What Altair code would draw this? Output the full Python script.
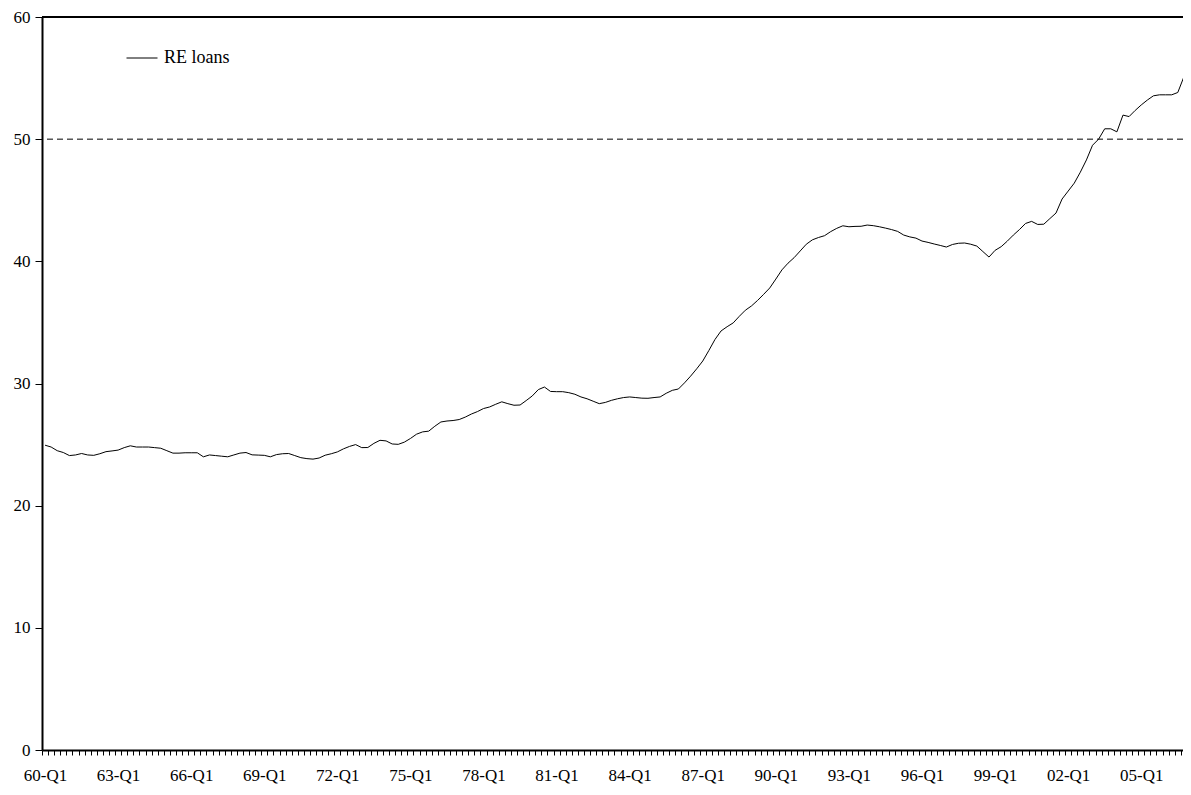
import json
import altair as alt
import pandas as pd

re_loans = [
    24.95, 24.8, 24.5, 24.35, 24.1, 24.15, 24.27, 24.15,
    24.12, 24.25, 24.42, 24.48, 24.55, 24.75, 24.9, 24.8,
    24.8, 24.8, 24.75, 24.7, 24.5, 24.3, 24.3, 24.33,
    24.33, 24.33, 24.0, 24.15, 24.1, 24.05, 24.0, 24.15,
    24.3, 24.35, 24.16, 24.14, 24.12, 24.0, 24.18, 24.25,
    24.27, 24.1, 23.93, 23.85, 23.81, 23.9, 24.13, 24.25,
    24.4, 24.65, 24.85, 25.0, 24.75, 24.76, 25.1, 25.35,
    25.3, 25.05, 25.02, 25.2, 25.5, 25.85, 26.04, 26.1,
    26.5, 26.85, 26.93, 26.97, 27.05, 27.25, 27.5, 27.7,
    27.95, 28.08, 28.3, 28.5, 28.35, 28.22, 28.24, 28.6,
    28.98, 29.5, 29.71, 29.35, 29.33, 29.33, 29.25, 29.12,
    28.9, 28.75, 28.55, 28.35, 28.45, 28.62, 28.75, 28.85,
    28.9, 28.85, 28.8, 28.79, 28.85, 28.9, 29.2, 29.44,
    29.55, 30.05, 30.6, 31.2, 31.84, 32.7, 33.6, 34.3,
    34.65, 34.96, 35.5, 36.0, 36.35, 36.8, 37.3, 37.82,
    38.55, 39.3, 39.85, 40.3, 40.85, 41.4, 41.76, 41.95,
    42.1, 42.43, 42.7, 42.91, 42.83, 42.86, 42.87, 42.97,
    42.92, 42.83, 42.72, 42.6, 42.45, 42.15, 42.0, 41.9,
    41.66, 41.55, 41.42, 41.3, 41.17, 41.38, 41.48, 41.5,
    41.4, 41.25, 40.8, 40.35, 40.9, 41.2, 41.65, 42.15,
    42.6, 43.1, 43.27, 43.02, 43.04, 43.5, 43.95, 45.1,
    45.75, 46.4, 47.3, 48.3, 49.5, 50.0, 50.85, 50.85,
    50.6, 51.97, 51.85, 52.35, 52.8, 53.2, 53.55, 53.63,
    53.63, 53.63, 53.82, 55.1, 54.92,
]
quarters = [f"{(60 + k // 4) % 100:02d}-Q{k % 4 + 1}" for k in range(len(re_loans))]
series_name = ["RE loans"]
y_ticks = [0, 10, 20, 30, 40, 50, 60]
threshold = [50]
top_value = [60]

df = pd.DataFrame({"i": list(range(len(re_loans))), "q": quarters,
                   "v": re_loans, "s": series_name * len(re_loans)})

PX_PER_Q = 6.09
WIDTH = 1141
HEIGHT = 733
x_end = -0.5 + WIDTH / PX_PER_Q

tick_vals = [k - 0.5 for k in range(0, 190)]
lbl = [quarters[k] if (k % 12 == 0 and k < len(quarters)) else "" for k in range(191)]
label_expr = json.dumps(lbl) + "[round(datum.value + 0.5)] || ''"

FONT = "Liberation Serif"

xscale = alt.Scale(domain=[-0.5, x_end], nice=False, zero=False)
yscale = alt.Scale(domain=[0, 60], nice=False)

x_axis = alt.Axis(values=tick_vals, labelExpr=label_expr, title=None, grid=False,
                  tickSize=5, tickColor="black", tickWidth=1,
                  domainColor="black", domainWidth=2,
                  labelFont=FONT, labelFontSize=17, labelColor="black",
                  labelPadding=12, labelOffset=3, labelOverlap=False,
                  labelFlush=False, labelBound=False)
y_axis = alt.Axis(values=y_ticks, title=None, grid=False,
                  tickSize=7, tickColor="black", tickWidth=1,
                  domainColor="black", domainWidth=2,
                  labelFont=FONT, labelFontSize=17, labelColor="black",
                  labelPadding=5, labelFlush=False)

line = alt.Chart(df).mark_line(strokeWidth=1, clip=True).encode(
    x=alt.X("i:Q", scale=xscale, axis=x_axis),
    y=alt.Y("v:Q", scale=yscale, axis=y_axis),
    color=alt.Color("s:N", scale=alt.Scale(range=["black"]),
                    legend=alt.Legend(title=None, orient="none", legendX=84, legendY=25,
                                      symbolType="stroke", symbolSize=961,
                                      symbolStrokeWidth=1, symbolStrokeColor="#444",
                                      labelFont=FONT, labelFontSize=18, labelColor="black",
                                      labelOffset=6, padding=0)),
)

dash = alt.Chart(pd.DataFrame({"y": threshold})).mark_rule(
    color="black", strokeWidth=1, strokeDash=[6, 4]).encode(y=alt.Y("y:Q", scale=yscale))

top = alt.Chart(pd.DataFrame({"y": top_value})).mark_rule(
    color="black", strokeWidth=2).encode(y=alt.Y("y:Q", scale=yscale))

chart = alt.layer(dash, top, line).properties(
    width=WIDTH, height=HEIGHT,
    autosize=alt.AutoSizeParams(type="none"),
    padding={"left": 34, "top": 9, "right": 0, "bottom": 37},
    background="white",
).configure_view(stroke=None)

chart.save("out.html", embed_options={"renderer": "svg", "actions": False})
